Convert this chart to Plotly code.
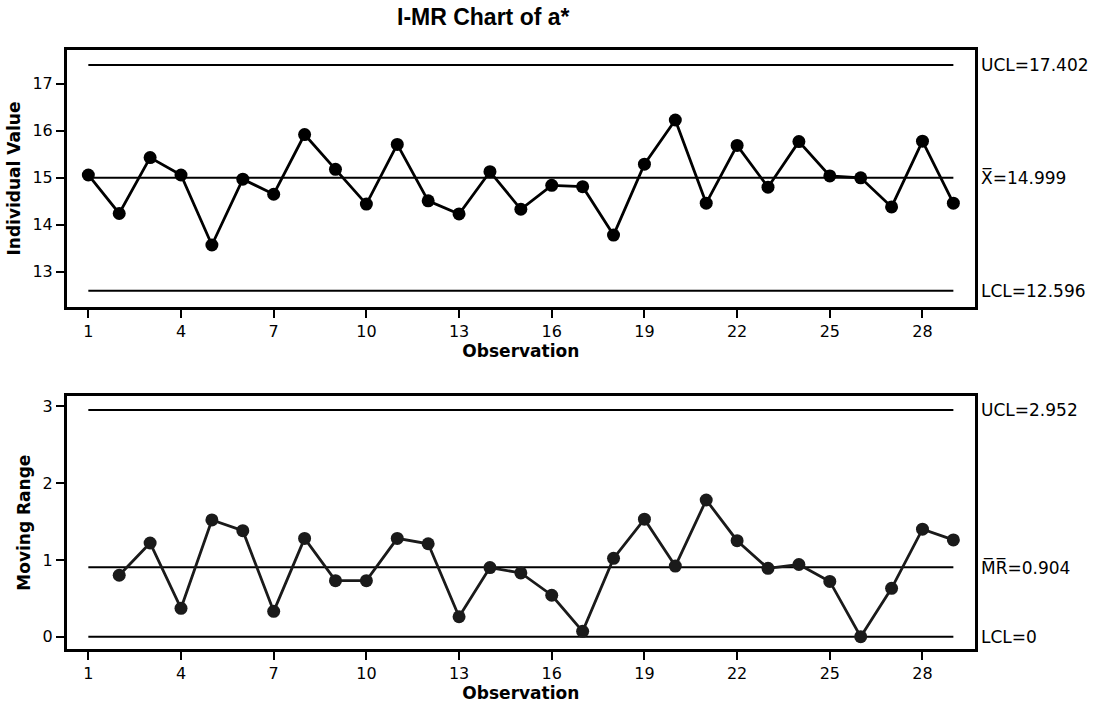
import plotly.graph_objects as go

# Observation numbers and measured a* values
observation = list(range(1, 30))
individual_value = [15.06, 14.24, 15.43, 15.06, 13.57, 14.97, 14.65, 15.92, 15.18, 14.44,
                    15.71, 14.51, 14.23, 15.13, 14.33, 14.84, 14.81, 13.78, 15.29, 16.23,
                    14.46, 15.69, 14.80, 15.77, 15.04, 15.00, 14.38, 15.78, 14.46]

# Moving ranges (start at observation 2)
mr_observation = list(range(2, 30))
moving_range = [0.80, 1.22, 0.37, 1.52, 1.38, 0.33, 1.28, 0.73, 0.73, 1.28,
                1.21, 0.26, 0.90, 0.83, 0.54, 0.07, 1.02, 1.53, 0.92, 1.78,
                1.25, 0.89, 0.94, 0.72, 0.00, 0.63, 1.40, 1.26]

# Control limits
i_limits = {"UCL": 17.402, "mean": 14.999, "LCL": 12.596}
mr_limits = {"UCL": 2.952, "mean": 0.904, "LCL": 0.0}
i_labels = ["UCL=17.402", "X\u0305=14.999", "LCL=12.596"]
mr_labels = ["UCL=2.952", "M\u0305R\u0305=0.904", "LCL=0"]

x_ticks = [1, 4, 7, 10, 13, 16, 19, 22, 25, 28]
i_ticks = [13, 14, 15, 16, 17]
mr_ticks = [0, 1, 2, 3]

FONT = "DejaVu Sans"
TITLE_FONT = "Liberation Sans Narrow, Liberation Sans, DejaVu Sans"
W, H = 1094, 708

fig = go.Figure()

x_span = [observation[0], observation[-1]]

# Individual chart
for key in ("UCL", "mean", "LCL"):
    fig.add_trace(go.Scatter(x=x_span, y=[i_limits[key]] * 2, mode="lines",
                             line=dict(color="black", width=2),
                             xaxis="x", yaxis="y", hoverinfo="skip", showlegend=False))
fig.add_trace(go.Scatter(x=observation, y=individual_value, mode="lines+markers",
                         line=dict(color="black", width=2.8),
                         marker=dict(color="black", size=13),
                         xaxis="x", yaxis="y", showlegend=False))

# Moving range chart
for key in ("UCL", "mean", "LCL"):
    fig.add_trace(go.Scatter(x=x_span, y=[mr_limits[key]] * 2, mode="lines",
                             line=dict(color="black", width=2),
                             xaxis="x2", yaxis="y2", hoverinfo="skip", showlegend=False))
fig.add_trace(go.Scatter(x=mr_observation, y=moving_range, mode="lines+markers",
                         line=dict(color="#1a1a1a", width=2.8),
                         marker=dict(color="#1a1a1a", size=13),
                         xaxis="x2", yaxis="y2", showlegend=False))

x_left, x_right = 66.7 / W, 975 / W

axis_common = dict(showline=True, mirror=True, linecolor="black", linewidth=2.5,
                   showgrid=False, zeroline=False, ticks="outside", ticklen=8,
                   tickwidth=2, tickcolor="black",
                   tickfont=dict(family=FONT, size=16, color="black"))

title_font = dict(family=FONT, size=17, color="black")

xaxis_common = dict(axis_common, range=[0.3, 29.7], tickvals=x_ticks,
                    title=dict(text="<b>Observation</b>", font=title_font, standoff=2))

fig.update_layout(
    width=W, height=H,
    margin=dict(l=0, r=0, t=0, b=0),
    paper_bgcolor="white", plot_bgcolor="white",
    xaxis=dict(xaxis_common, domain=[x_left, x_right], anchor="y"),
    yaxis=dict(axis_common, domain=[1 - 307 / H, 1 - 50 / H], range=[12.25, 17.72],
               tickvals=i_ticks, anchor="x",
               title=dict(text="<b>Individual Value</b>", font=title_font, standoff=8)),
    xaxis2=dict(xaxis_common, domain=[x_left, x_right], anchor="y2"),
    yaxis2=dict(axis_common, domain=[1 - 649.3 / H, 1 - 396 / H], range=[-0.164, 3.134],
                tickvals=mr_ticks, anchor="x2",
                title=dict(text="<b>Moving Range</b>", font=title_font, standoff=8)),
)

annotations = [dict(text="<b>I-MR Chart of a*</b>", x=483 / W, y=1 - 17 / H,
                    xref="paper", yref="paper", xanchor="center", yanchor="middle",
                    showarrow=False,
                    font=dict(family=TITLE_FONT, size=23, color="black"))]
for key, label in zip(("UCL", "mean", "LCL"), i_labels):
    annotations.append(dict(text=label, x=979 / W, y=i_limits[key], xref="paper", yref="y",
                            xanchor="left", showarrow=False,
                            font=dict(family=FONT, size=17, color="black")))
for key, label in zip(("UCL", "mean", "LCL"), mr_labels):
    annotations.append(dict(text=label, x=979 / W, y=mr_limits[key], xref="paper", yref="y2",
                            xanchor="left", showarrow=False,
                            font=dict(family=FONT, size=17, color="black")))
fig.update_layout(annotations=annotations)

fig.write_html("out.html")
